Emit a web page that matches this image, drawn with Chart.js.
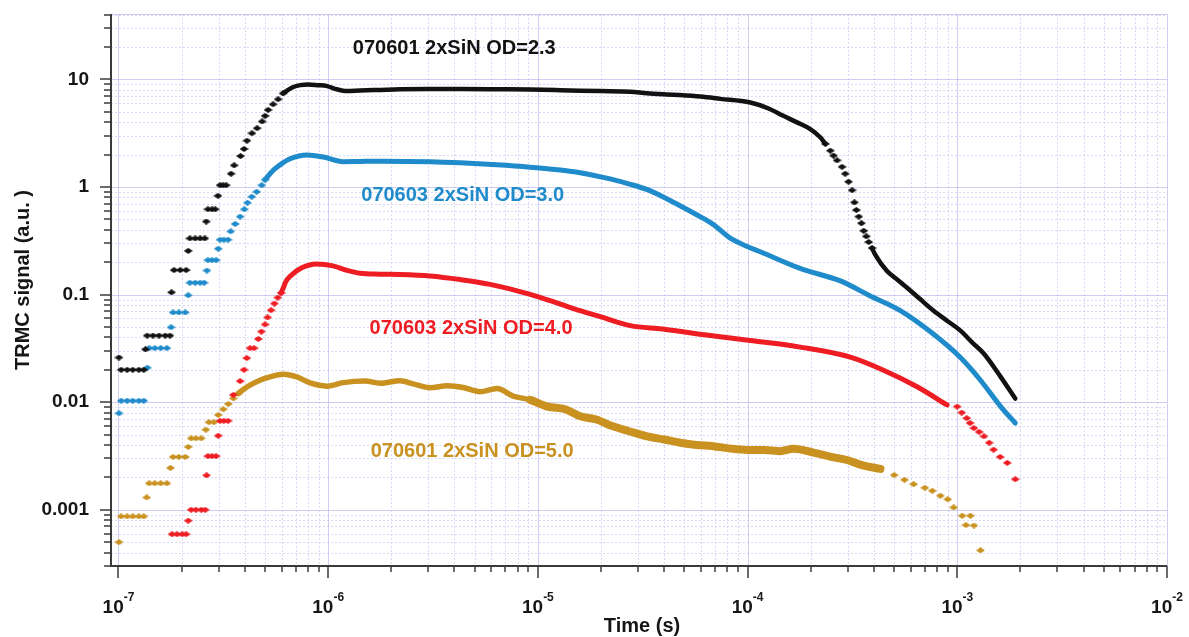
<!DOCTYPE html>
<html lang="en">
<head>
<meta charset="UTF-8">
<title>TRMC signal vs time</title>
<script src="https://cdn.jsdelivr.net/npm/chart.js@4.4.1/dist/chart.umd.min.js"></script>
<style>
  html, body { margin: 0; padding: 0; background: #fff; }
  #wrap { width: 1189px; height: 637px; position: relative; }
</style>
</head>
<body>
<div id="wrap"><canvas id="chart"></canvas></div>
<script>
// values: time in s, signal in a.u.
// "Dots" = markers that stand apart, "Trace" = dense part that reads as a thick line

const blackDotsT = [1.005e-7, 1.03e-7, 1.10e-7, 1.17e-7, 1.25e-7, 1.32e-7, 1.345e-7, 1.37e-7, 1.46e-7, 1.56e-7, 1.67e-7, 1.76e-7,
  1.79e-7, 1.84e-7, 1.97e-7, 2.10e-7, 2.15e-7, 2.19e-7, 2.32e-7, 2.45e-7, 2.58e-7, 2.62e-7, 2.67e-7, 2.79e-7, 2.89e-7, 2.98e-7,
  3.05e-7, 3.15e-7, 3.26e-7, 3.44e-7, 3.56e-7, 3.82e-7, 3.97e-7, 4.10e-7, 4.33e-7, 4.58e-7, 4.84e-7, 5.00e-7, 5.17e-7, 5.46e-7,
  5.77e-7, 6.09e-7,
  2.35e-4, 2.48e-4, 2.57e-4, 2.67e-4, 2.82e-4, 2.92e-4, 3.03e-4, 3.15e-4, 3.23e-4, 3.30e-4, 3.39e-4, 3.49e-4, 3.58e-4, 3.68e-4,
  3.78e-4, 3.92e-4];
const blackDotsS = [0.026, 0.020, 0.020, 0.020, 0.020, 0.020, 0.031, 0.0416, 0.0416, 0.0416, 0.0416, 0.0416,
  0.105, 0.169, 0.169, 0.169, 0.255, 0.333, 0.333, 0.333, 0.333, 0.478, 0.621, 0.621, 0.621, 0.829,
  1.04, 1.04, 1.04, 1.33, 1.59, 1.94, 2.26, 2.70, 3.16, 3.52, 4.07, 4.59, 5.21, 5.88,
  6.54, 7.43,
  2.52, 2.18, 1.96, 1.77, 1.54, 1.33, 1.12, 0.934, 0.72, 0.611, 0.531, 0.461, 0.392, 0.348,
  0.308, 0.271];
const blackTraceT = [6.09e-7, 6.70e-7, 7.35e-7, 8.02e-7, 8.95e-7, 9.88e-7, 1.10e-6, 1.23e-6, 1.42e-6, 1.77e-6, 2.20e-6, 3.06e-6,
  4.26e-6, 6.60e-6, 9.19e-6, 1.28e-5, 1.98e-5, 2.76e-5, 3.31e-5, 4.5e-5, 5.95e-5, 7.41e-5, 1.03e-4, 1.25e-4, 1.48e-4, 1.72e-4,
  1.99e-4, 2.22e-4, 2.35e-4];
const blackTraceS = [7.43, 8.38, 8.85, 9.0, 8.85, 8.67, 8.1, 7.80, 7.9, 8.0, 8.1, 8.15,
  8.15, 8.1, 8.05, 7.95, 7.8, 7.7, 7.45, 7.2, 6.93, 6.6, 6.10, 5.4, 4.59, 3.99,
  3.46, 2.90, 2.52];
const blackTailT = [3.92e-4, 4.06e-4, 4.62e-4, 5.2e-4, 5.76e-4, 6.6e-4, 7.71e-4, 9.0e-4, 1.035e-3, 1.18e-3, 1.34e-3, 1.61e-3, 1.89e-3];
const blackTailS = [0.271, 0.235, 0.1654, 0.137, 0.116, 0.092, 0.0708, 0.0566, 0.0463, 0.0358, 0.0282, 0.0172, 0.0108];

const blueDotsT = [1.005e-7, 1.03e-7, 1.10e-7, 1.17e-7, 1.25e-7, 1.32e-7, 1.372e-7, 1.40e-7, 1.49e-7, 1.59e-7, 1.70e-7,
  1.78e-7, 1.82e-7, 1.94e-7, 2.08e-7, 2.15e-7, 2.19e-7, 2.32e-7, 2.45e-7, 2.56e-7, 2.64e-7, 2.67e-7, 2.79e-7, 2.92e-7, 2.99e-7,
  3.05e-7, 3.18e-7, 3.33e-7, 3.43e-7, 3.60e-7, 3.80e-7, 3.98e-7, 4.12e-7, 4.32e-7, 4.56e-7, 4.82e-7, 5.00e-7];
const blueDotsS = [0.00788, 0.01032, 0.01032, 0.01032, 0.01032, 0.01032, 0.0209, 0.0318, 0.0318, 0.0318, 0.0318,
  0.0497, 0.0682, 0.0682, 0.0682, 0.0986, 0.129, 0.129, 0.129, 0.129, 0.1675, 0.209, 0.209, 0.209, 0.267,
  0.3236, 0.3236, 0.3236, 0.387, 0.454, 0.531, 0.621, 0.715, 0.813, 0.903, 1.04, 1.17];
const blueTraceT = [5.00e-7, 5.28e-7, 5.58e-7, 6.01e-7, 6.58e-7, 7.91e-7, 9.49e-7, 1.18e-6, 1.42e-6, 1.77e-6, 3.06e-6, 4.26e-6,
  6.37e-6, 9.19e-6, 1.28e-5, 1.59e-5, 2.21e-5, 2.76e-5, 3.3e-5, 3.96e-5, 4.77e-5, 5.75e-5, 6.85e-5, 8.27e-5, 9.97e-5, 1.15e-4,
  1.78e-4, 2.77e-4, 3.85e-4, 5.35e-4, 7.69e-4, 1.035e-3, 1.29e-3, 1.61e-3, 1.89e-3];
const blueTraceS = [1.17, 1.33, 1.48, 1.65, 1.83, 1.99, 1.90, 1.72, 1.73, 1.74, 1.72, 1.68,
  1.61, 1.53, 1.44, 1.36, 1.19, 1.06, 0.95, 0.81, 0.67, 0.55, 0.45, 0.335, 0.28, 0.25,
  0.175, 0.134, 0.097, 0.071, 0.043, 0.026, 0.016, 0.0091, 0.0064];

const redDotsT = [1.80e-7, 1.90e-7, 2.01e-7, 2.10e-7, 2.15e-7, 2.22e-7, 2.34e-7, 2.48e-7, 2.59e-7, 2.63e-7, 2.67e-7, 2.79e-7,
  2.92e-7, 2.99e-7, 3.05e-7, 3.18e-7, 3.33e-7, 3.53e-7, 3.80e-7, 3.97e-7, 4.09e-7, 4.24e-7, 4.43e-7, 4.64e-7, 4.80e-7, 5.00e-7,
  5.14e-7, 5.34e-7, 5.54e-7, 5.75e-7, 5.96e-7,
  9.98e-4, 1.05e-3, 1.11e-3, 1.15e-3, 1.20e-3, 1.27e-3, 1.34e-3, 1.42e-3, 1.49e-3, 1.60e-3, 1.73e-3, 1.89e-3];
const redDotsS = [0.000592, 0.000592, 0.000592, 0.000592, 0.000792, 0.001, 0.001, 0.001, 0.001, 0.00209, 0.00315, 0.00315,
  0.00315, 0.00488, 0.00671, 0.00671, 0.00671, 0.0117, 0.0157, 0.0200, 0.0257, 0.0318, 0.0318, 0.0387, 0.0453, 0.0528,
  0.0614, 0.0716, 0.0826, 0.0938, 0.1035,
  0.0091, 0.0080, 0.0071, 0.0064, 0.00574, 0.0053, 0.00481, 0.0042, 0.00362, 0.0031, 0.00273, 0.00192];
const redTraceT = [5.96e-7, 6.11e-7, 6.28e-7, 6.6e-7, 7.48e-7, 8.82e-7, 1.055e-6, 1.23e-6, 1.42e-6, 1.77e-6, 2.20e-6, 3.06e-6,
  4.26e-6, 5.92e-6, 9.19e-6, 1.28e-5, 1.59e-5, 2.0e-5, 2.76e-5, 3.93e-5, 6.64e-5, 1.03e-4, 1.78e-4, 3.09e-4, 4.45e-4, 6.43e-4,
  8.94e-4];
const redTraceS = [0.1035, 0.1156, 0.132, 0.1487, 0.1774, 0.193, 0.185, 0.168, 0.158, 0.155, 0.154, 0.149,
  0.138, 0.1245, 0.1007, 0.0816, 0.0708, 0.0621, 0.0515, 0.0479, 0.0416, 0.0374, 0.0325, 0.0262, 0.0198, 0.0139,
  0.00942];

const goldDotsT = [1.005e-7, 1.03e-7, 1.10e-7, 1.17e-7, 1.25e-7, 1.32e-7, 1.363e-7, 1.40e-7, 1.49e-7, 1.59e-7, 1.70e-7, 1.77e-7,
  1.82e-7, 1.94e-7, 2.08e-7, 2.15e-7, 2.22e-7, 2.34e-7, 2.48e-7, 2.61e-7, 2.70e-7, 2.85e-7, 2.99e-7, 3.16e-7, 3.34e-7, 3.53e-7,
  3.73e-7,
  5.0e-4, 5.6e-4, 6.19e-4, 7.0e-4, 7.6e-4, 8.3e-4, 9.0e-4, 9.61e-4, 1.055e-3, 1.10e-3, 1.155e-3, 1.20e-3, 1.29e-3];
const goldDotsS = [0.0005, 0.000867, 0.000867, 0.000867, 0.000867, 0.000867, 0.0013, 0.00176, 0.00176, 0.00176, 0.00176, 0.00245,
  0.0031, 0.0031, 0.0031, 0.00384, 0.00461, 0.00461, 0.00461, 0.00555, 0.00651, 0.00651, 0.00762, 0.00859, 0.00962, 0.01084,
  0.01205,
  0.0021, 0.0019, 0.00173, 0.0016, 0.0015, 0.00135, 0.00125, 0.00105, 0.00088, 0.00072, 0.00088, 0.000713, 0.000419];
const goldTraceT = [3.73e-7, 3.94e-7, 4.24e-7, 4.73e-7, 5.28e-7, 6.11e-7, 7.08e-7, 8.20e-7, 9.85e-7, 1.18e-6, 1.5e-6, 1.77e-6,
  2.20e-6, 2.54e-6, 3.06e-6, 3.7e-6, 4.40e-6, 5.30e-6, 6.39e-6, 7.62e-6, 9.2e-6, 1.11e-5, 1.35e-5, 1.59e-5, 1.9e-5, 2.26e-5,
  2.7e-5, 3.32e-5, 4.0e-5, 4.77e-5, 5.7e-5, 6.85e-5, 8.3e-5, 9.97e-5, 1.2e-4, 1.43e-4, 1.66e-4, 2.06e-4, 2.5e-4, 2.98e-4,
  3.5e-4, 4.30e-4];
const goldTraceS = [0.01205, 0.0131, 0.0144, 0.0160, 0.0172, 0.0182, 0.0172, 0.0151, 0.0141, 0.0152, 0.0157, 0.0150,
  0.0158, 0.0148, 0.0136, 0.0142, 0.0137, 0.0125, 0.0134, 0.0114, 0.0105, 0.0091, 0.0086, 0.0074, 0.0069, 0.0060,
  0.0054, 0.0048, 0.0045, 0.0042, 0.0040, 0.0039, 0.0037, 0.0036, 0.0036, 0.0035, 0.0037, 0.0034, 0.0031, 0.0029,
  0.0026, 0.0024];

const seriesNames = ['070601 2xSiN OD=2.3', '070603 2xSiN OD=3.0', '070603 2xSiN OD=4.0', '070601 2xSiN OD=5.0'];
const xTickExps = [-7, -6, -5, -4, -3, -2];
const yTickVals = [0.001, 0.01, 0.1, 1, 10];
const yTickLabels = ['0.001', '0.01', '0.1', '1', '10'];

const FONT = "'Liberation Sans', Arial, sans-serif";
const colBlack = '#121212', colBlue = '#1f8bcb', colRed = '#ee1d23', colGold = '#c9911f';

// where each series name sits (in data coordinates)
const notes = [
  { text: seriesNames[0], t: 3.99e-6, s: 19.6, color: colBlack },
  { text: seriesNames[1], t: 4.38e-6, s: 0.826, color: colBlue },
  { text: seriesNames[2], t: 4.80e-6, s: 0.0488, color: colRed },
  { text: seriesNames[3], t: 4.86e-6, s: 0.0035, color: colGold }
];

const pts = (t, s) => t.map((v, i) => ({ x: v, y: s[i] }));

// flattened diamond marker
function diamond(color) {
  const c = document.createElement('canvas');
  c.width = 9; c.height = 6;
  const g = c.getContext('2d');
  g.fillStyle = color;
  g.beginPath();
  g.moveTo(4.5, 0); g.lineTo(9, 3); g.lineTo(4.5, 6); g.lineTo(0, 3);
  g.closePath();
  g.fill();
  return c;
}

function dots(t, s, color) {
  return { data: pts(t, s), showLine: false, pointStyle: diamond(color), pointRadius: 4,
           backgroundColor: color, borderColor: color };
}
function trace(t, s, color, w, wNoisy) {
  const ds = { data: pts(t, s), showLine: true, pointRadius: 0, borderColor: color, borderWidth: w,
               cubicInterpolationMode: 'monotone', borderCapStyle: 'round', borderJoinStyle: 'round', fill: false };
  // the noisy part of a weak signal reads as a wider band
  if (wNoisy) ds.segment = { borderWidth: c => c.p0.parsed.x > 8e-6 ? wNoisy : w };
  return ds;
}

const paper = {
  id: 'paper',
  beforeDatasetsDraw(chart) {
    const { ctx, chartArea: a, scales: { x, y } } = chart;
    ctx.save();
    const gl = (x1, y1, x2, y2, major) => {
      ctx.beginPath();
      ctx.lineWidth = 1;
      ctx.strokeStyle = major ? 'rgba(180,180,235,0.65)' : 'rgba(185,185,240,0.55)';
      ctx.setLineDash(major ? [] : [2, 2]);
      ctx.moveTo(x1, y1); ctx.lineTo(x2, y2);
      ctx.stroke();
    };
    for (let d = -8; d <= -2; d++) {
      for (let m = 1; m <= 9; m++) {
        const v = m * Math.pow(10, d);
        if (v < x.min * 0.999 || v > x.max * 1.001) continue;
        const px = Math.round(x.getPixelForValue(v)) + 0.5;
        gl(px, a.top, px, a.bottom, m === 1);
      }
    }
    for (let d = -4; d <= 1; d++) {
      for (let m = 1; m <= 9; m++) {
        const v = m * Math.pow(10, d);
        if (v < y.min * 0.999 || v > y.max * 1.001) continue;
        const py = Math.round(y.getPixelForValue(v)) + 0.5;
        gl(a.left, py, a.right, py, m === 1);
      }
    }
    gl(a.left, a.top + 0.5, a.right, a.top + 0.5, true);
    ctx.restore();
  },
  afterDraw(chart) {
    const { ctx, chartArea: a, scales: { x, y } } = chart;
    ctx.save();
    ctx.strokeStyle = '#3a3a3a';
    ctx.setLineDash([]);
    // ticks
    ctx.lineWidth = 1.5;
    for (let d = -8; d <= -2; d++) {
      for (let m = 1; m <= 9; m++) {
        const v = m * Math.pow(10, d);
        if (v < x.min * 0.999 || v > x.max * 1.001) continue;
        const px = Math.round(x.getPixelForValue(v));
        ctx.beginPath();
        ctx.moveTo(px, a.bottom);
        ctx.lineTo(px, a.bottom + (m === 1 ? 12 : 6));
        ctx.stroke();
      }
    }
    for (let d = -4; d <= 1; d++) {
      for (let m = 1; m <= 9; m++) {
        const v = m * Math.pow(10, d);
        if (v < y.min * 0.999 || v > y.max * 1.001) continue;
        const py = Math.round(y.getPixelForValue(v));
        ctx.beginPath();
        ctx.moveTo(a.left, py);
        ctx.lineTo(a.left - (m === 1 ? 11 : 7), py);
        ctx.stroke();
      }
    }
    // axis lines
    ctx.lineWidth = 2;
    ctx.beginPath();
    ctx.moveTo(a.left, a.top);
    ctx.lineTo(a.left, a.bottom);
    ctx.lineTo(a.right, a.bottom);
    ctx.stroke();

    // x tick labels: 10 with raised exponent
    ctx.fillStyle = '#161616';
    ctx.textBaseline = 'alphabetic';
    ctx.textAlign = 'left';
    xTickExps.forEach(e => {
      const px = x.getPixelForValue(Math.pow(10, e));
      ctx.font = 'bold 19px ' + FONT;
      const w1 = ctx.measureText('10').width;
      ctx.font = 'bold 12px ' + FONT;
      const w2 = ctx.measureText(String(e)).width;
      const x0 = px - (w1 + w2) / 2;
      ctx.font = 'bold 19px ' + FONT;
      ctx.fillText('10', x0, 613);
      ctx.font = 'bold 12px ' + FONT;
      ctx.fillText(String(e), x0 + w1, 601);
    });

    // axis titles
    ctx.font = 'bold 20px ' + FONT;
    ctx.textAlign = 'center';
    ctx.textBaseline = 'middle';
    ctx.fillText('Time (s)', 642, 626);
    ctx.save();
    ctx.translate(23, 280);
    ctx.rotate(-Math.PI / 2);
    ctx.fillText('TRMC signal (a.u. )', 0, 0);
    ctx.restore();

    // series names
    notes.forEach(n => {
      ctx.fillStyle = n.color;
      ctx.fillText(n.text, x.getPixelForValue(n.t), y.getPixelForValue(n.s));
    });
    ctx.restore();
  }
};

new Chart(document.getElementById('chart'), {
  type: 'scatter',
  data: {
    datasets: [
      dots(blackDotsT, blackDotsS, colBlack),
      trace(blackTraceT, blackTraceS, colBlack, 4.5),
      trace(blackTailT, blackTailS, colBlack, 4.5),
      dots(blueDotsT, blueDotsS, colBlue),
      trace(blueTraceT, blueTraceS, colBlue, 5),
      dots(redDotsT, redDotsS, colRed),
      trace(redTraceT, redTraceS, colRed, 5),
      dots(goldDotsT, goldDotsS, colGold),
      trace(goldTraceT, goldTraceS, colGold, 5.5, 8)
    ]
  },
  options: {
    responsive: true,
    maintainAspectRatio: false,
    animation: false,
    events: [],
    layout: { padding: { top: 14, right: 22, left: 0, bottom: 0 } },
    plugins: { legend: { display: false }, tooltip: { enabled: false } },
    scales: {
      x: {
        type: 'logarithmic',
        min: 9.21e-8,
        max: 1e-2,
        grid: { display: false, drawTicks: false },
        border: { display: false },
        ticks: { display: false },
        afterFit: s => { s.height = 71; s.paddingLeft = 0; s.paddingRight = 0; }
      },
      y: {
        type: 'logarithmic',
        min: 3.36e-4,
        max: 40.6,
        grid: { display: false, drawTicks: false },
        border: { display: false },
        afterBuildTicks: s => { s.ticks = yTickVals.map(v => ({ value: v })); },
        ticks: {
          autoSkip: false,
          padding: 22,
          color: '#161616',
          font: { family: FONT, size: 19, weight: 'bold' },
          callback: v => {
            const i = yTickVals.indexOf(v);
            return i >= 0 ? yTickLabels[i] : '';
          }
        },
        afterFit: s => { s.width = 111; s.paddingTop = 0; s.paddingBottom = 0; }
      }
    }
  },
  plugins: [paper]
});
</script>
</body>
</html>
